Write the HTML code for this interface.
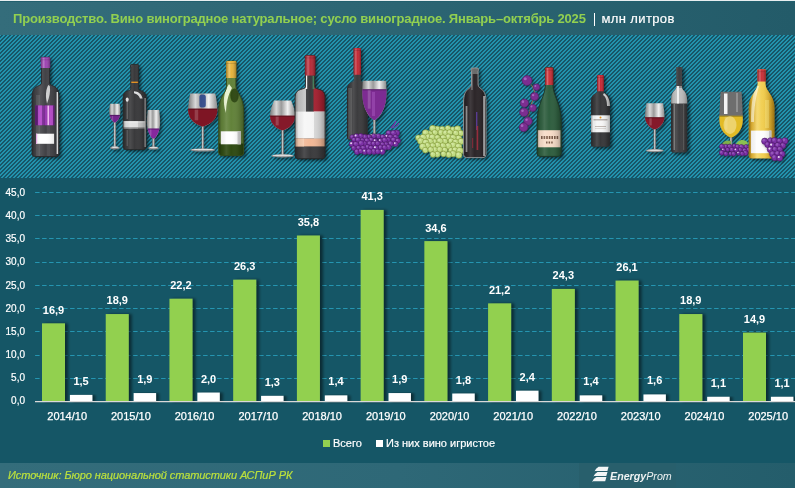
<!DOCTYPE html>
<html><head><meta charset="utf-8"><style>
html,body{margin:0;padding:0;}
html{background:#155666;}
body{width:795px;height:488px;overflow:hidden;position:relative;background:#155666;font-family:"Liberation Sans",Arial,sans-serif;}
#hdr{position:absolute;left:0;top:0;width:795px;height:35px;background:linear-gradient(to right,#346d7b 0%,#2c6573 50%,#235b69 100%);}
#hdr:before{content:'';position:absolute;left:0;top:0;width:795px;height:1px;background:#e8eef0;}
#hdr:after{content:'';position:absolute;left:0;top:1px;width:795px;height:1px;background:#22606e;}
#title{position:absolute;left:13.1px;top:10.9px;font-size:13px;font-weight:bold;color:#92d050;white-space:nowrap;line-height:16px;letter-spacing:-0.18px;}
#unit{position:absolute;left:601.5px;top:10.8px;-webkit-text-stroke:0.2px #fff;font-size:13px;color:#fff;white-space:nowrap;line-height:16px;letter-spacing:0.37px;}
#banner{position:absolute;left:0;top:35px;width:795px;height:143px;background:repeating-linear-gradient(135deg,#2293ad 0,#2293ad 1.414px,#185668 1.414px,#185668 2.828px);}
#chart{position:absolute;left:0;top:0;}
.g{stroke:#2595b1;stroke-width:1;stroke-dasharray:4.5 2.5;}
.ax{stroke:#d9d9d9;stroke-width:1.2;}
.gb{fill:#92d050;}
.wb{fill:#ffffff;}
.yl{font-size:10px;fill:#fff;text-anchor:end;stroke:#fff;stroke-width:0.2px;}
.vl{font-size:11px;fill:#fff;font-weight:bold;text-anchor:middle;}
.xl{font-size:11px;fill:#fff;text-anchor:middle;stroke:#fff;stroke-width:0.25px;}
#legend{position:absolute;top:437px;left:0;font-size:11px;color:#fff;line-height:12px;-webkit-text-stroke:0.2px #fff;}
.sq{position:absolute;width:7px;height:7px;top:3px;}
#footer{position:absolute;left:0;top:463px;width:795px;height:25px;background:linear-gradient(to right,#346d7b 0%,#2e6877 50%,#245d6b 100%);}
#src{position:absolute;left:8px;top:6px;font-size:11px;font-style:italic;color:#bde23c;white-space:nowrap;line-height:13px;letter-spacing:-0.08px;-webkit-text-stroke:0.2px #bde23c;}
#logo{position:absolute;left:579px;top:0;width:97px;height:25px;background:#285f6c;}
#logo span{position:absolute;top:7px;font-size:10.7px;font-style:italic;color:#eef2f2;line-height:13px;white-space:nowrap;}
</style></head><body>
<div id="hdr"><div id="title">Производство. Вино виноградное натуральное; сусло виноградное. Январь–октябрь 2025</div><div style="position:absolute;left:594px;top:13px;width:1px;height:12.5px;background:#fff"></div><div id="unit">млн литров</div></div>
<div id="banner"></div>
<svg width="795" height="177" viewBox="0 0 795 177" style="position:absolute;left:0;top:0"><defs><filter id="bs" x="-50%" y="-50%" width="200%" height="200%"><feGaussianBlur stdDeviation="1.6"/></filter><filter id="ds" x="-30%" y="-30%" width="160%" height="160%"><feDropShadow dx="1.5" dy="1.5" stdDeviation="1" flood-color="#000" flood-opacity="0.45"/></filter><linearGradient id="bsh" x1="0" x2="1" y1="0" y2="0"><stop offset="0" stop-color="#000" stop-opacity="0.35"/><stop offset="0.12" stop-color="#000" stop-opacity="0.05"/><stop offset="0.3" stop-color="#fff" stop-opacity="0.10"/><stop offset="0.5" stop-color="#fff" stop-opacity="0"/><stop offset="0.85" stop-color="#000" stop-opacity="0.12"/><stop offset="1" stop-color="#000" stop-opacity="0.3"/></linearGradient><linearGradient id="csh" x1="0" x2="1" y1="0" y2="0"><stop offset="0" stop-color="#000" stop-opacity="0.25"/><stop offset="0.3" stop-color="#fff" stop-opacity="0.3"/><stop offset="0.5" stop-color="#fff" stop-opacity="0.05"/><stop offset="1" stop-color="#000" stop-opacity="0.3"/></linearGradient><linearGradient id="yb" x1="0" x2="1" y1="0" y2="0"><stop offset="0" stop-color="#d9a21c"/><stop offset="0.35" stop-color="#f4d666"/><stop offset="0.6" stop-color="#f0cc4c"/><stop offset="1" stop-color="#d8a01c"/></linearGradient><linearGradient id="gl" x1="0" x2="1" y1="0" y2="0"><stop offset="0" stop-color="#7a7a7a"/><stop offset="0.25" stop-color="#d8d8d8"/><stop offset="0.45" stop-color="#9a9a9a"/><stop offset="0.7" stop-color="#f0f0f0"/><stop offset="1" stop-color="#8a8a8a"/></linearGradient><clipPath id="c1"><path d="M42.10,57.30 Q41.20,57.30 41.20,58.50 L41.20,59.80 L41.50,60.30 L41.50,83.00 C41.50,87.20 32.00,83.70 32.00,97.00 L32.00,153.50 Q32.00,156.50 35.00,156.50 L56.00,156.50 Q59.00,156.50 59.00,153.50 L59.00,97.00 C59.00,83.70 49.50,87.20 49.50,83.00 L49.50,60.30 L49.80,59.80 L49.80,58.50 Q49.80,57.30 48.90,57.30 Z"/></clipPath><clipPath id="g2"><path d="M110.03,103.80 C109.56,106.92 109.25,109.27 109.25,111.61 C109.25,118.62 112.89,121.54 114.05,122.40 L115.65,122.40 C116.81,121.54 120.45,118.62 120.45,111.61 C120.45,109.27 120.14,106.92 119.67,103.80 Z"/></clipPath><clipPath id="c3"><path d="M131.40,64.40 Q130.50,64.40 130.50,65.60 L130.50,66.90 L130.80,67.40 L130.80,89.00 C130.80,91.55 123.10,89.42 123.10,97.50 L123.10,146.60 Q123.10,149.60 126.10,149.60 L143.10,149.60 Q146.10,149.60 146.10,146.60 L146.10,97.50 C146.10,89.42 138.40,91.55 138.40,89.00 L138.40,67.40 L138.70,66.90 L138.70,65.60 Q138.70,64.40 137.80,64.40 Z"/></clipPath><clipPath id="g4"><path d="M147.69,110.00 C147.22,114.79 146.90,118.38 146.90,121.97 C146.90,132.71 151.19,137.18 152.70,138.50 L154.30,138.50 C155.81,137.18 160.10,132.71 160.10,121.97 C160.10,118.38 159.78,114.79 159.31,110.00 Z"/></clipPath><clipPath id="g5"><path d="M190.15,93.50 C188.92,100.10 188.10,105.05 188.10,110.00 C188.10,120.72 197.62,125.18 201.95,126.50 L203.55,126.50 C207.88,125.18 217.40,120.72 217.40,110.00 C217.40,105.05 216.58,100.10 215.35,93.50 Z"/></clipPath><clipPath id="c6"><path d="M227.10,61.10 Q226.20,61.10 226.20,62.30 L226.20,63.60 L226.50,64.10 L226.50,86.00 C226.50,93.80 218.70,95.10 218.70,112.00 L218.70,152.60 Q218.70,155.60 221.70,155.60 L240.70,155.60 Q243.70,155.60 243.70,152.60 L243.70,112.00 C243.70,95.10 235.90,93.80 235.90,86.00 L235.90,64.10 L236.20,63.60 L236.20,62.30 Q236.20,61.10 235.30,61.10 Z"/></clipPath><clipPath id="g7"><path d="M274.03,100.60 C271.61,106.52 270.00,110.96 270.00,115.40 C270.00,125.02 278.19,129.02 281.80,130.20 L283.40,130.20 C287.01,129.02 295.20,125.02 295.20,115.40 C295.20,110.96 293.59,106.52 291.17,100.60 Z"/></clipPath><clipPath id="c8"><path d="M306.00,55.40 Q305.10,55.40 305.10,56.60 L305.10,57.90 L305.40,58.40 L305.40,87.00 C305.40,90.00 295.10,87.50 295.10,97.00 L295.10,155.80 Q295.10,158.80 298.10,158.80 L322.10,158.80 Q325.10,158.80 325.10,155.80 L325.10,97.00 C325.10,87.50 314.80,90.00 314.80,87.00 L314.80,58.40 L315.10,57.90 L315.10,56.60 Q315.10,55.40 314.20,55.40 Z"/></clipPath><clipPath id="c9"><path d="M354.50,48.00 Q353.60,48.00 353.60,49.20 L353.60,50.50 L353.90,51.00 L353.90,80.00 C353.90,83.30 346.90,80.55 346.90,91.00 L346.90,137.00 Q346.90,140.00 349.90,140.00 L364.70,140.00 Q367.70,140.00 367.70,137.00 L367.70,91.00 C367.70,80.55 360.70,83.30 360.70,80.00 L360.70,51.00 L361.00,50.50 L361.00,49.20 Q361.00,48.00 360.10,48.00 Z"/></clipPath><clipPath id="g10"><path d="M362.66,80.80 C362.45,85.50 362.30,89.03 362.30,92.56 C362.30,110.40 370.16,117.80 373.60,120.00 L375.20,120.00 C378.63,117.80 386.50,110.40 386.50,92.56 C386.50,89.03 386.35,85.50 386.14,80.80 Z"/></clipPath><clipPath id="c11"><path d="M472.10,68.00 Q471.20,68.00 471.20,69.20 L471.20,70.50 L471.50,71.00 L471.50,84.00 C471.50,90.30 463.60,86.70 463.60,102.00 L463.60,154.60 Q463.60,157.60 466.60,157.60 L483.00,157.60 Q486.00,157.60 486.00,154.60 L486.00,102.00 C486.00,86.70 478.10,90.30 478.10,84.00 L478.10,71.00 L478.40,70.50 L478.40,69.20 Q478.40,68.00 477.50,68.00 Z"/></clipPath><clipPath id="c12"><path d="M545.95,67.60 Q545.05,67.60 545.05,68.80 L545.05,70.10 L545.35,70.60 L545.35,85.00 C545.35,96.10 537.05,103.50 537.05,122.00 L537.05,153.40 Q537.05,156.40 540.05,156.40 L558.25,156.40 Q561.25,156.40 561.25,153.40 L561.25,122.00 C561.25,103.50 552.95,96.10 552.95,85.00 L552.95,70.60 L553.25,70.10 L553.25,68.80 Q553.25,67.60 552.35,67.60 Z"/></clipPath><clipPath id="c13"><path d="M598.00,75.10 Q597.10,75.10 597.10,76.30 L597.10,77.60 L597.40,78.10 L597.40,91.50 C597.40,94.65 591.10,92.03 591.10,102.00 L591.10,144.70 Q591.10,146.70 593.10,146.70 L607.90,146.70 Q609.90,146.70 609.90,144.70 L609.90,102.00 C609.90,92.03 603.60,94.65 603.60,91.50 L603.60,78.10 L603.90,77.60 L603.90,76.30 Q603.90,75.10 603.00,75.10 Z"/></clipPath><clipPath id="g14"><path d="M646.46,103.20 C645.58,108.40 645.00,112.30 645.00,116.20 C645.00,124.65 651.34,128.16 653.95,129.20 L655.55,129.20 C658.16,128.16 664.50,124.65 664.50,116.20 C664.50,112.30 663.92,108.40 663.04,103.20 Z"/></clipPath><clipPath id="c15"><path d="M676.85,67.00 Q675.95,67.00 675.95,68.20 L675.95,69.50 L676.25,70.00 L676.25,87.00 C676.25,91.80 671.05,88.92 671.05,103.00 L671.05,150.40 Q671.05,152.40 673.05,152.40 L685.25,152.40 Q687.25,152.40 687.25,150.40 L687.25,103.00 C687.25,88.92 682.05,91.80 682.05,87.00 L682.05,70.00 L682.35,69.50 L682.35,68.20 Q682.35,67.00 681.45,67.00 Z"/></clipPath><clipPath id="g16"><path d="M720.57,91.70 C719.87,103.06 719.40,111.58 719.40,120.10 C719.40,131.41 727.00,136.11 730.30,137.50 L731.90,137.50 C735.20,136.11 742.80,131.41 742.80,120.10 C742.80,111.58 742.33,103.06 741.63,91.70 Z"/></clipPath><clipPath id="c17"><path d="M758.20,69.20 Q757.30,69.20 757.30,70.40 L757.30,71.70 L757.60,72.20 L757.60,84.00 C757.60,90.90 748.70,95.50 748.70,107.00 L748.70,155.40 Q748.70,158.40 751.70,158.40 L771.50,158.40 Q774.50,158.40 774.50,155.40 L774.50,107.00 C774.50,95.50 765.60,90.90 765.60,84.00 L765.60,72.20 L765.90,71.70 L765.90,70.40 Q765.90,69.20 765.00,69.20 Z"/></clipPath></defs><path d="M42.10,57.30 Q41.20,57.30 41.20,58.50 L41.20,59.80 L41.50,60.30 L41.50,83.00 C41.50,87.20 32.00,83.70 32.00,97.00 L32.00,153.50 Q32.00,156.50 35.00,156.50 L56.00,156.50 Q59.00,156.50 59.00,153.50 L59.00,97.00 C59.00,83.70 49.50,87.20 49.50,83.00 L49.50,60.30 L49.80,59.80 L49.80,58.50 Q49.80,57.30 48.90,57.30 Z" fill="#000" opacity="0.55" filter="url(#bs)" transform="translate(2.5,2)"/><path d="M42.10,57.30 Q41.20,57.30 41.20,58.50 L41.20,59.80 L41.50,60.30 L41.50,83.00 C41.50,87.20 32.00,83.70 32.00,97.00 L32.00,153.50 Q32.00,156.50 35.00,156.50 L56.00,156.50 Q59.00,156.50 59.00,153.50 L59.00,97.00 C59.00,83.70 49.50,87.20 49.50,83.00 L49.50,60.30 L49.80,59.80 L49.80,58.50 Q49.80,57.30 48.90,57.30 Z" fill="#434347"/><g clip-path="url(#c1)"><rect x="36.00" y="95.00" width="4.00" height="61.00" fill="#5a5a5e" opacity="0.8"/><rect x="47.00" y="95.00" width="3.00" height="61.00" fill="#555559" opacity="0.6"/><rect x="35.20" y="105.50" width="19.20" height="19.70" fill="#7a2a92" /><rect x="35.20" y="105.50" width="2.60" height="19.70" fill="#5a1a70" /><rect x="38.00" y="105.50" width="4.00" height="19.70" fill="#b044c6" /><rect x="45.00" y="105.50" width="2.00" height="19.70" fill="#9a3ab2" /><rect x="47.40" y="105.50" width="1.80" height="19.70" fill="#f4b8f4" /><rect x="49.20" y="105.50" width="3.80" height="19.70" fill="#b84ccc" /><rect x="53.00" y="105.50" width="1.40" height="19.70" fill="#6a2080" /><rect x="36.00" y="133.70" width="18.10" height="10.10" fill="#ffffff" /><rect x="36.00" y="133.70" width="1.20" height="10.10" fill="#f0b0f0" /><path d="M48.2,85 C45.8,90 45.2,96 47,103.5 C49.6,97 50.6,91 49.8,86 Z" fill="#fff" opacity="0.75"/><rect x="32.00" y="57.30" width="27.00" height="99.20" fill="url(#bsh)"/><rect x="56.60" y="92.00" width="1.60" height="62.00" fill="#e8e8e8" opacity="0.9"/></g><path d="M42.10,57.30 Q41.20,57.30 41.20,58.50 L41.20,59.80 L41.50,60.30 L41.50,83.00 C41.50,87.20 32.00,83.70 32.00,97.00 L32.00,153.50 Q32.00,156.50 35.00,156.50 L56.00,156.50 Q59.00,156.50 59.00,153.50 L59.00,97.00 C59.00,83.70 49.50,87.20 49.50,83.00 L49.50,60.30 L49.80,59.80 L49.80,58.50 Q49.80,57.30 48.90,57.30 Z" fill="none" stroke="#2a2a2c" stroke-width="0.9"/><path d="M40.80,58.50 Q40.80,57.30 42.00,57.30 L49.00,57.30 Q50.20,57.30 50.20,58.50 L50.20,68.00 L40.80,68.00 Z" fill="#9a3cb0"/><rect x="40.80" y="57.70" width="9.40" height="10.30" fill="url(#csh)"/><rect x="40.80" y="59.50" width="9.40" height="0.7" fill="#000" opacity="0.18"/><g filter="url(#bs)" opacity="0.5" transform="translate(2,2)"><path d="M110.03,103.80 C109.56,106.92 109.25,109.27 109.25,111.61 C109.25,118.62 112.89,121.54 114.05,122.40 L115.65,122.40 C116.81,121.54 120.45,118.62 120.45,111.61 C120.45,109.27 120.14,106.92 119.67,103.80 Z" fill="#000"/><rect x="114.05" y="122.40" width="1.6" height="26.00" fill="#000"/><ellipse cx="114.85" cy="147.90" rx="4.75" ry="1.6" fill="#000"/></g><rect x="113.65" y="121.40" width="2.4" height="27.00" fill="#5a5a5a"/><rect x="114.05" y="121.40" width="1.6" height="27.00" fill="#9a9a9a"/><rect x="114.25" y="121.40" width="0.6" height="27.00" fill="#dadada"/><ellipse cx="114.85" cy="147.80" rx="4.75" ry="1.6" fill="#8e8e8e"/><ellipse cx="114.85" cy="147.30" rx="3.55" ry="0.8" fill="#dcdcdc"/><path d="M110.03,103.80 C109.56,106.92 109.25,109.27 109.25,111.61 C109.25,118.62 112.89,121.54 114.05,122.40 L115.65,122.40 C116.81,121.54 120.45,118.62 120.45,111.61 C120.45,109.27 120.14,106.92 119.67,103.80 Z" fill="url(#gl)"/><g clip-path="url(#g2)"><rect x="108.25" y="114.90" width="13.20" height="8.50" fill="#74228c" /><rect x="108.25" y="114.90" width="13.20" height="1.20" fill="#000" opacity="0.25"/><rect x="111.77" y="115.90" width="1.34" height="4.50" fill="#fff" opacity="0.18"/></g><path d="M131.40,64.40 Q130.50,64.40 130.50,65.60 L130.50,66.90 L130.80,67.40 L130.80,89.00 C130.80,91.55 123.10,89.42 123.10,97.50 L123.10,146.60 Q123.10,149.60 126.10,149.60 L143.10,149.60 Q146.10,149.60 146.10,146.60 L146.10,97.50 C146.10,89.42 138.40,91.55 138.40,89.00 L138.40,67.40 L138.70,66.90 L138.70,65.60 Q138.70,64.40 137.80,64.40 Z" fill="#000" opacity="0.55" filter="url(#bs)" transform="translate(2.5,2)"/><path d="M131.40,64.40 Q130.50,64.40 130.50,65.60 L130.50,66.90 L130.80,67.40 L130.80,89.00 C130.80,91.55 123.10,89.42 123.10,97.50 L123.10,146.60 Q123.10,149.60 126.10,149.60 L143.10,149.60 Q146.10,149.60 146.10,146.60 L146.10,97.50 C146.10,89.42 138.40,91.55 138.40,89.00 L138.40,67.40 L138.70,66.90 L138.70,65.60 Q138.70,64.40 137.80,64.40 Z" fill="#3a3a3c"/><g clip-path="url(#c3)"><rect x="120.00" y="121.40" width="30.00" height="6.90" fill="#c9c9c9" /><rect x="120.00" y="121.40" width="18.00" height="6.90" fill="#e2e2e2" /><rect x="120.00" y="121.40" width="30.00" height="0.90" fill="#f4f4f4" /><rect x="120.00" y="127.40" width="30.00" height="0.90" fill="#7a7a7a" /><rect x="125.00" y="81.60" width="20.00" height="1.40" fill="#e09020" /><rect x="126.50" y="101.00" width="1.50" height="18.00" fill="#fff" opacity="0.22"/><rect x="126.50" y="130.00" width="1.50" height="16.00" fill="#fff" opacity="0.15"/><path d="M134,91.3 C138,91.6 141.5,93.6 142.6,98.5 L140,98.5 C139,95.6 137,93.8 134,93.2 Z" fill="#fff" opacity="0.85"/><ellipse cx="127.2" cy="99.6" rx="1.5" ry="2.2" fill="#fff" opacity="0.9"/><rect x="123.10" y="64.40" width="23.00" height="85.20" fill="url(#bsh)"/><rect x="144.60" y="98.00" width="1.30" height="49.00" fill="#bdbdbd" opacity="0.85"/></g><path d="M131.40,64.40 Q130.50,64.40 130.50,65.60 L130.50,66.90 L130.80,67.40 L130.80,89.00 C130.80,91.55 123.10,89.42 123.10,97.50 L123.10,146.60 Q123.10,149.60 126.10,149.60 L143.10,149.60 Q146.10,149.60 146.10,146.60 L146.10,97.50 C146.10,89.42 138.40,91.55 138.40,89.00 L138.40,67.40 L138.70,66.90 L138.70,65.60 Q138.70,64.40 137.80,64.40 Z" fill="none" stroke="#2a2a2a" stroke-width="0.9"/><g filter="url(#bs)" opacity="0.5" transform="translate(2,2)"><path d="M147.69,110.00 C147.22,114.79 146.90,118.38 146.90,121.97 C146.90,132.71 151.19,137.18 152.70,138.50 L154.30,138.50 C155.81,137.18 160.10,132.71 160.10,121.97 C160.10,118.38 159.78,114.79 159.31,110.00 Z" fill="#000"/><rect x="152.70" y="138.50" width="1.6" height="10.10" fill="#000"/><ellipse cx="153.50" cy="148.10" rx="5.25" ry="1.6" fill="#000"/></g><rect x="152.30" y="137.50" width="2.4" height="11.10" fill="#5a5a5a"/><rect x="152.70" y="137.50" width="1.6" height="11.10" fill="#9a9a9a"/><rect x="152.90" y="137.50" width="0.6" height="11.10" fill="#dadada"/><ellipse cx="153.50" cy="148.00" rx="5.25" ry="1.6" fill="#8e8e8e"/><ellipse cx="153.50" cy="147.50" rx="4.05" ry="0.8" fill="#dcdcdc"/><path d="M147.69,110.00 C147.22,114.79 146.90,118.38 146.90,121.97 C146.90,132.71 151.19,137.18 152.70,138.50 L154.30,138.50 C155.81,137.18 160.10,132.71 160.10,121.97 C160.10,118.38 159.78,114.79 159.31,110.00 Z" fill="url(#gl)"/><g clip-path="url(#g4)"><rect x="145.90" y="128.50" width="15.20" height="11.00" fill="#86289e" /><rect x="145.90" y="128.50" width="15.20" height="1.20" fill="#000" opacity="0.25"/><rect x="149.87" y="129.50" width="1.58" height="6.00" fill="#fff" opacity="0.18"/></g><g filter="url(#bs)" opacity="0.5" transform="translate(2,2)"><path d="M190.15,93.50 C188.92,100.10 188.10,105.05 188.10,110.00 C188.10,120.72 197.62,125.18 201.95,126.50 L203.55,126.50 C207.88,125.18 217.40,120.72 217.40,110.00 C217.40,105.05 216.58,100.10 215.35,93.50 Z" fill="#000"/><rect x="201.95" y="126.50" width="1.6" height="24.10" fill="#000"/><ellipse cx="202.75" cy="150.10" rx="12.50" ry="1.6" fill="#000"/></g><rect x="201.55" y="125.50" width="2.4" height="25.10" fill="#5a5a5a"/><rect x="201.95" y="125.50" width="1.6" height="25.10" fill="#9a9a9a"/><rect x="202.15" y="125.50" width="0.6" height="25.10" fill="#dadada"/><ellipse cx="202.75" cy="150.00" rx="12.50" ry="1.6" fill="#8e8e8e"/><ellipse cx="202.75" cy="149.50" rx="11.30" ry="0.8" fill="#dcdcdc"/><path d="M190.15,93.50 C188.92,100.10 188.10,105.05 188.10,110.00 C188.10,120.72 197.62,125.18 201.95,126.50 L203.55,126.50 C207.88,125.18 217.40,120.72 217.40,110.00 C217.40,105.05 216.58,100.10 215.35,93.50 Z" fill="url(#gl)"/><g clip-path="url(#g5)"><rect x="187.10" y="108.60" width="31.30" height="18.90" fill="#7e1524" /><rect x="187.10" y="108.60" width="31.30" height="1.20" fill="#000" opacity="0.25"/><rect x="194.69" y="109.60" width="3.52" height="10.74" fill="#fff" opacity="0.18"/></g><rect x="199.40" y="94.50" width="6.40" height="13.00" fill="#2c4688" opacity="0.9" rx="2.5"/><path d="M227.10,61.10 Q226.20,61.10 226.20,62.30 L226.20,63.60 L226.50,64.10 L226.50,86.00 C226.50,93.80 218.70,95.10 218.70,112.00 L218.70,152.60 Q218.70,155.60 221.70,155.60 L240.70,155.60 Q243.70,155.60 243.70,152.60 L243.70,112.00 C243.70,95.10 235.90,93.80 235.90,86.00 L235.90,64.10 L236.20,63.60 L236.20,62.30 Q236.20,61.10 235.30,61.10 Z" fill="#000" opacity="0.55" filter="url(#bs)" transform="translate(2.5,2)"/><path d="M227.10,61.10 Q226.20,61.10 226.20,62.30 L226.20,63.60 L226.50,64.10 L226.50,86.00 C226.50,93.80 218.70,95.10 218.70,112.00 L218.70,152.60 Q218.70,155.60 221.70,155.60 L240.70,155.60 Q243.70,155.60 243.70,152.60 L243.70,112.00 C243.70,95.10 235.90,93.80 235.90,86.00 L235.90,64.10 L236.20,63.60 L236.20,62.30 Q236.20,61.10 235.30,61.10 Z" fill="#62823a"/><g clip-path="url(#c6)"><rect x="214.00" y="143.50" width="36.00" height="14.50" fill="#2f4a12" /><rect x="220.80" y="131.30" width="20.10" height="13.00" fill="#ffffff" /><rect x="237.50" y="131.30" width="3.40" height="13.00" fill="#cfcfcf" /><path d="M229,84 C224,92 222,101 226,113 C226,104 228,95 232,88 Z" fill="#eef8d8" opacity="0.95"/><ellipse cx="234.5" cy="95.5" rx="4.2" ry="7" fill="#2a4210" opacity="0.9"/><rect x="218.70" y="61.10" width="25.00" height="94.50" fill="url(#bsh)"/></g><path d="M227.10,61.10 Q226.20,61.10 226.20,62.30 L226.20,63.60 L226.50,64.10 L226.50,86.00 C226.50,93.80 218.70,95.10 218.70,112.00 L218.70,152.60 Q218.70,155.60 221.70,155.60 L240.70,155.60 Q243.70,155.60 243.70,152.60 L243.70,112.00 C243.70,95.10 235.90,93.80 235.90,86.00 L235.90,64.10 L236.20,63.60 L236.20,62.30 Q236.20,61.10 235.30,61.10 Z" fill="none" stroke="#33491a" stroke-width="0.9"/><path d="M226.10,62.30 Q226.10,61.10 227.30,61.10 L235.10,61.10 Q236.30,61.10 236.30,62.30 L236.30,78.00 L226.10,78.00 Z" fill="#e6b032"/><rect x="226.10" y="61.50" width="10.20" height="16.50" fill="url(#csh)"/><rect x="226.10" y="63.30" width="10.20" height="0.7" fill="#000" opacity="0.18"/><g filter="url(#bs)" opacity="0.5" transform="translate(2,2)"><path d="M274.03,100.60 C271.61,106.52 270.00,110.96 270.00,115.40 C270.00,125.02 278.19,129.02 281.80,130.20 L283.40,130.20 C287.01,129.02 295.20,125.02 295.20,115.40 C295.20,110.96 293.59,106.52 291.17,100.60 Z" fill="#000"/><rect x="281.80" y="130.20" width="1.6" height="26.30" fill="#000"/><ellipse cx="282.60" cy="156.00" rx="11.50" ry="1.6" fill="#000"/></g><rect x="281.40" y="129.20" width="2.4" height="27.30" fill="#5a5a5a"/><rect x="281.80" y="129.20" width="1.6" height="27.30" fill="#9a9a9a"/><rect x="282.00" y="129.20" width="0.6" height="27.30" fill="#dadada"/><ellipse cx="282.60" cy="155.90" rx="11.50" ry="1.6" fill="#8e8e8e"/><ellipse cx="282.60" cy="155.40" rx="10.30" ry="0.8" fill="#dcdcdc"/><path d="M274.03,100.60 C271.61,106.52 270.00,110.96 270.00,115.40 C270.00,125.02 278.19,129.02 281.80,130.20 L283.40,130.20 C287.01,129.02 295.20,125.02 295.20,115.40 C295.20,110.96 293.59,106.52 291.17,100.60 Z" fill="url(#gl)"/><g clip-path="url(#g7)"><rect x="269.00" y="115.60" width="27.20" height="15.60" fill="#85192a" /><rect x="269.00" y="115.60" width="27.20" height="1.20" fill="#000" opacity="0.25"/><rect x="275.67" y="116.60" width="3.02" height="8.76" fill="#fff" opacity="0.18"/></g><path d="M306.00,55.40 Q305.10,55.40 305.10,56.60 L305.10,57.90 L305.40,58.40 L305.40,87.00 C305.40,90.00 295.10,87.50 295.10,97.00 L295.10,155.80 Q295.10,158.80 298.10,158.80 L322.10,158.80 Q325.10,158.80 325.10,155.80 L325.10,97.00 C325.10,87.50 314.80,90.00 314.80,87.00 L314.80,58.40 L315.10,57.90 L315.10,56.60 Q315.10,55.40 314.20,55.40 Z" fill="#000" opacity="0.55" filter="url(#bs)" transform="translate(2.5,2)"/><path d="M306.00,55.40 Q305.10,55.40 305.10,56.60 L305.10,57.90 L305.40,58.40 L305.40,87.00 C305.40,90.00 295.10,87.50 295.10,97.00 L295.10,155.80 Q295.10,158.80 298.10,158.80 L322.10,158.80 Q325.10,158.80 325.10,155.80 L325.10,97.00 C325.10,87.50 314.80,90.00 314.80,87.00 L314.80,58.40 L315.10,57.90 L315.10,56.60 Q315.10,55.40 314.20,55.40 Z" fill="#3b3b3d"/><g clip-path="url(#c8)"><rect x="294.00" y="84.00" width="12.00" height="28.00" fill="#c4c4c4" /><rect x="313.50" y="84.00" width="12.50" height="28.00" fill="#a82232" /><rect x="305.60" y="75.00" width="1.60" height="14.00" fill="#f2f2f2" /><rect x="312.60" y="76.00" width="2.00" height="13.00" fill="#3f8a5c" opacity="0.85"/><rect x="294.00" y="111.60" width="32.00" height="27.00" fill="#f6f6f6" /><rect x="314.00" y="111.60" width="12.00" height="27.00" fill="#dcdcdc" /><rect x="294.00" y="138.60" width="32.00" height="7.80" fill="#f2b896" /><rect x="294.00" y="138.60" width="10.00" height="7.80" fill="#f8cdb0" /><rect x="295.10" y="55.40" width="30.00" height="103.40" fill="url(#bsh)"/></g><path d="M306.00,55.40 Q305.10,55.40 305.10,56.60 L305.10,57.90 L305.40,58.40 L305.40,87.00 C305.40,90.00 295.10,87.50 295.10,97.00 L295.10,155.80 Q295.10,158.80 298.10,158.80 L322.10,158.80 Q325.10,158.80 325.10,155.80 L325.10,97.00 C325.10,87.50 314.80,90.00 314.80,87.00 L314.80,58.40 L315.10,57.90 L315.10,56.60 Q315.10,55.40 314.20,55.40 Z" fill="none" stroke="#262626" stroke-width="0.9"/><path d="M304.90,56.60 Q304.90,55.40 306.10,55.40 L314.10,55.40 Q315.30,55.40 315.30,56.60 L315.30,75.60 L304.90,75.60 Z" fill="#b3202e"/><rect x="304.90" y="55.80" width="10.40" height="19.80" fill="url(#csh)"/><rect x="304.90" y="57.60" width="10.40" height="0.7" fill="#000" opacity="0.18"/><path d="M354.50,48.00 Q353.60,48.00 353.60,49.20 L353.60,50.50 L353.90,51.00 L353.90,80.00 C353.90,83.30 346.90,80.55 346.90,91.00 L346.90,137.00 Q346.90,140.00 349.90,140.00 L364.70,140.00 Q367.70,140.00 367.70,137.00 L367.70,91.00 C367.70,80.55 360.70,83.30 360.70,80.00 L360.70,51.00 L361.00,50.50 L361.00,49.20 Q361.00,48.00 360.10,48.00 Z" fill="#000" opacity="0.55" filter="url(#bs)" transform="translate(2.5,2)"/><path d="M354.50,48.00 Q353.60,48.00 353.60,49.20 L353.60,50.50 L353.90,51.00 L353.90,80.00 C353.90,83.30 346.90,80.55 346.90,91.00 L346.90,137.00 Q346.90,140.00 349.90,140.00 L364.70,140.00 Q367.70,140.00 367.70,137.00 L367.70,91.00 C367.70,80.55 360.70,83.30 360.70,80.00 L360.70,51.00 L361.00,50.50 L361.00,49.20 Q361.00,48.00 360.10,48.00 Z" fill="#3c3c3e"/><g clip-path="url(#c9)"><rect x="348.00" y="88.00" width="4.00" height="51.00" fill="#fff" opacity="0.15"/><rect x="346.90" y="48.00" width="20.80" height="92.00" fill="url(#bsh)"/></g><path d="M353.60,49.20 Q353.60,48.00 354.80,48.00 L359.80,48.00 Q361.00,48.00 361.00,49.20 L361.00,74.70 L353.60,74.70 Z" fill="#c0202c"/><rect x="353.60" y="48.40" width="7.40" height="26.30" fill="url(#csh)"/><rect x="353.60" y="50.20" width="7.40" height="0.7" fill="#000" opacity="0.18"/><g filter="url(#bs)" opacity="0.5" transform="translate(2,2)"><path d="M362.66,80.80 C362.45,85.50 362.30,89.03 362.30,92.56 C362.30,110.40 370.16,117.80 373.60,120.00 L375.20,120.00 C378.63,117.80 386.50,110.40 386.50,92.56 C386.50,89.03 386.35,85.50 386.14,80.80 Z" fill="#000"/><rect x="373.60" y="120.00" width="1.6" height="16.00" fill="#000"/><ellipse cx="374.40" cy="135.50" rx="5.00" ry="1.6" fill="#000"/></g><rect x="373.20" y="119.00" width="2.4" height="17.00" fill="#5a5a5a"/><rect x="373.60" y="119.00" width="1.6" height="17.00" fill="#9a9a9a"/><rect x="373.80" y="119.00" width="0.6" height="17.00" fill="#dadada"/><ellipse cx="374.40" cy="135.40" rx="5.00" ry="1.6" fill="#8e8e8e"/><ellipse cx="374.40" cy="134.90" rx="3.80" ry="0.8" fill="#dcdcdc"/><path d="M362.66,80.80 C362.45,85.50 362.30,89.03 362.30,92.56 C362.30,110.40 370.16,117.80 373.60,120.00 L375.20,120.00 C378.63,117.80 386.50,110.40 386.50,92.56 C386.50,89.03 386.35,85.50 386.14,80.80 Z" fill="url(#gl)"/><g clip-path="url(#g10)"><rect x="361.30" y="89.20" width="26.20" height="31.80" fill="#7d2b92" /><rect x="361.30" y="89.20" width="26.20" height="1.20" fill="#000" opacity="0.25"/><rect x="367.75" y="90.20" width="2.90" height="18.48" fill="#fff" opacity="0.18"/></g><rect x="372.00" y="92.00" width="3.00" height="24.00" fill="#a050b8" opacity="0.6"/><g filter="url(#ds)"><circle cx="396.73" cy="132.96" r="2.94" fill="#7b30a6" stroke="#4a1a62" stroke-width="0.6"/><circle cx="395.85" cy="131.93" r="1.32" fill="#c9a0e0" opacity="0.35"/><circle cx="388.85" cy="133.29" r="2.86" fill="#7b30a6" stroke="#4a1a62" stroke-width="0.6"/><circle cx="387.99" cy="132.29" r="1.29" fill="#c9a0e0" opacity="0.35"/><circle cx="393.53" cy="133.29" r="2.93" fill="#7b30a6" stroke="#4a1a62" stroke-width="0.6"/><circle cx="392.65" cy="132.26" r="1.32" fill="#c9a0e0" opacity="0.35"/><circle cx="378.40" cy="136.31" r="2.55" fill="#7b30a6" stroke="#4a1a62" stroke-width="0.6"/><circle cx="377.63" cy="135.42" r="1.15" fill="#c9a0e0" opacity="0.35"/><circle cx="368.94" cy="137.01" r="2.50" fill="#7b30a6" stroke="#4a1a62" stroke-width="0.6"/><circle cx="368.19" cy="136.13" r="1.13" fill="#c9a0e0" opacity="0.35"/><circle cx="352.33" cy="137.14" r="2.49" fill="#7b30a6" stroke="#4a1a62" stroke-width="0.6"/><circle cx="351.58" cy="136.26" r="1.12" fill="#c9a0e0" opacity="0.35"/><circle cx="387.10" cy="136.70" r="2.80" fill="#7b30a6" stroke="#4a1a62" stroke-width="0.6"/><circle cx="386.26" cy="135.86" r="0.98" fill="#f4eaf8" opacity="0.9"/><circle cx="364.79" cy="137.15" r="2.84" fill="#7b30a6" stroke="#4a1a62" stroke-width="0.6"/><circle cx="363.93" cy="136.16" r="1.28" fill="#c9a0e0" opacity="0.35"/><circle cx="382.83" cy="137.10" r="2.59" fill="#7b30a6" stroke="#4a1a62" stroke-width="0.6"/><circle cx="382.05" cy="136.20" r="1.16" fill="#c9a0e0" opacity="0.35"/><circle cx="390.50" cy="137.18" r="2.80" fill="#7b30a6" stroke="#4a1a62" stroke-width="0.6"/><circle cx="389.65" cy="136.20" r="1.26" fill="#c9a0e0" opacity="0.35"/><circle cx="360.84" cy="136.07" r="2.55" fill="#7b30a6" stroke="#4a1a62" stroke-width="0.6"/><circle cx="360.07" cy="135.18" r="1.15" fill="#c9a0e0" opacity="0.35"/><circle cx="356.41" cy="136.35" r="2.72" fill="#7b30a6" stroke="#4a1a62" stroke-width="0.6"/><circle cx="355.60" cy="135.53" r="0.95" fill="#f4eaf8" opacity="0.9"/><circle cx="373.79" cy="136.21" r="2.43" fill="#7b30a6" stroke="#4a1a62" stroke-width="0.6"/><circle cx="373.06" cy="135.36" r="1.09" fill="#c9a0e0" opacity="0.35"/><circle cx="395.71" cy="137.13" r="2.59" fill="#7b30a6" stroke="#4a1a62" stroke-width="0.6"/><circle cx="394.93" cy="136.22" r="1.17" fill="#c9a0e0" opacity="0.35"/><circle cx="362.30" cy="140.52" r="2.61" fill="#7b30a6" stroke="#4a1a62" stroke-width="0.6"/><circle cx="361.52" cy="139.61" r="1.18" fill="#c9a0e0" opacity="0.35"/><circle cx="371.28" cy="140.29" r="2.81" fill="#7b30a6" stroke="#4a1a62" stroke-width="0.6"/><circle cx="370.44" cy="139.30" r="1.26" fill="#c9a0e0" opacity="0.35"/><circle cx="380.40" cy="140.72" r="2.44" fill="#7b30a6" stroke="#4a1a62" stroke-width="0.6"/><circle cx="379.67" cy="139.99" r="0.85" fill="#f4eaf8" opacity="0.9"/><circle cx="388.11" cy="139.77" r="2.53" fill="#7b30a6" stroke="#4a1a62" stroke-width="0.6"/><circle cx="387.35" cy="138.88" r="1.14" fill="#c9a0e0" opacity="0.35"/><circle cx="354.13" cy="139.91" r="2.51" fill="#7b30a6" stroke="#4a1a62" stroke-width="0.6"/><circle cx="353.38" cy="139.03" r="1.13" fill="#c9a0e0" opacity="0.35"/><circle cx="384.75" cy="140.15" r="2.74" fill="#7b30a6" stroke="#4a1a62" stroke-width="0.6"/><circle cx="383.92" cy="139.19" r="1.23" fill="#c9a0e0" opacity="0.35"/><circle cx="366.97" cy="140.69" r="2.69" fill="#7b30a6" stroke="#4a1a62" stroke-width="0.6"/><circle cx="366.17" cy="139.75" r="1.21" fill="#c9a0e0" opacity="0.35"/><circle cx="358.08" cy="140.07" r="2.76" fill="#7b30a6" stroke="#4a1a62" stroke-width="0.6"/><circle cx="357.25" cy="139.11" r="1.24" fill="#c9a0e0" opacity="0.35"/><circle cx="393.55" cy="139.95" r="2.84" fill="#7b30a6" stroke="#4a1a62" stroke-width="0.6"/><circle cx="392.69" cy="138.95" r="1.28" fill="#c9a0e0" opacity="0.35"/><circle cx="375.27" cy="140.88" r="2.44" fill="#7b30a6" stroke="#4a1a62" stroke-width="0.6"/><circle cx="374.54" cy="140.15" r="0.85" fill="#f4eaf8" opacity="0.9"/><circle cx="397.82" cy="140.84" r="2.62" fill="#7b30a6" stroke="#4a1a62" stroke-width="0.6"/><circle cx="397.03" cy="139.92" r="1.18" fill="#c9a0e0" opacity="0.35"/><circle cx="395.54" cy="143.91" r="2.66" fill="#7b30a6" stroke="#4a1a62" stroke-width="0.6"/><circle cx="394.74" cy="143.11" r="0.93" fill="#f4eaf8" opacity="0.9"/><circle cx="351.98" cy="143.99" r="2.85" fill="#7b30a6" stroke="#4a1a62" stroke-width="0.6"/><circle cx="351.12" cy="143.14" r="1.00" fill="#f4eaf8" opacity="0.9"/><circle cx="390.74" cy="143.65" r="2.75" fill="#7b30a6" stroke="#4a1a62" stroke-width="0.6"/><circle cx="389.91" cy="142.69" r="1.24" fill="#c9a0e0" opacity="0.35"/><circle cx="364.56" cy="143.77" r="2.76" fill="#7b30a6" stroke="#4a1a62" stroke-width="0.6"/><circle cx="363.73" cy="142.81" r="1.24" fill="#c9a0e0" opacity="0.35"/><circle cx="369.85" cy="143.77" r="2.93" fill="#7b30a6" stroke="#4a1a62" stroke-width="0.6"/><circle cx="368.97" cy="142.75" r="1.32" fill="#c9a0e0" opacity="0.35"/><circle cx="361.18" cy="143.41" r="2.94" fill="#7b30a6" stroke="#4a1a62" stroke-width="0.6"/><circle cx="360.30" cy="142.38" r="1.32" fill="#c9a0e0" opacity="0.35"/><circle cx="355.98" cy="144.26" r="2.86" fill="#7b30a6" stroke="#4a1a62" stroke-width="0.6"/><circle cx="355.12" cy="143.26" r="1.29" fill="#c9a0e0" opacity="0.35"/><circle cx="386.01" cy="144.55" r="2.72" fill="#7b30a6" stroke="#4a1a62" stroke-width="0.6"/><circle cx="385.19" cy="143.60" r="1.22" fill="#c9a0e0" opacity="0.35"/><circle cx="382.48" cy="144.56" r="2.52" fill="#7b30a6" stroke="#4a1a62" stroke-width="0.6"/><circle cx="381.72" cy="143.68" r="1.13" fill="#c9a0e0" opacity="0.35"/><circle cx="373.70" cy="143.74" r="2.60" fill="#7b30a6" stroke="#4a1a62" stroke-width="0.6"/><circle cx="372.92" cy="142.83" r="1.17" fill="#c9a0e0" opacity="0.35"/><circle cx="377.56" cy="143.46" r="2.51" fill="#7b30a6" stroke="#4a1a62" stroke-width="0.6"/><circle cx="376.81" cy="142.58" r="1.13" fill="#c9a0e0" opacity="0.35"/><circle cx="380.67" cy="147.56" r="2.69" fill="#7b30a6" stroke="#4a1a62" stroke-width="0.6"/><circle cx="379.86" cy="146.62" r="1.21" fill="#c9a0e0" opacity="0.35"/><circle cx="388.58" cy="147.20" r="2.63" fill="#7b30a6" stroke="#4a1a62" stroke-width="0.6"/><circle cx="387.79" cy="146.27" r="1.19" fill="#c9a0e0" opacity="0.35"/><circle cx="353.77" cy="148.12" r="2.45" fill="#7b30a6" stroke="#4a1a62" stroke-width="0.6"/><circle cx="353.03" cy="147.26" r="1.10" fill="#c9a0e0" opacity="0.35"/><circle cx="367.55" cy="147.15" r="2.66" fill="#7b30a6" stroke="#4a1a62" stroke-width="0.6"/><circle cx="366.75" cy="146.22" r="1.20" fill="#c9a0e0" opacity="0.35"/><circle cx="363.18" cy="148.16" r="2.77" fill="#7b30a6" stroke="#4a1a62" stroke-width="0.6"/><circle cx="362.35" cy="147.19" r="1.25" fill="#c9a0e0" opacity="0.35"/><circle cx="358.59" cy="148.03" r="2.50" fill="#7b30a6" stroke="#4a1a62" stroke-width="0.6"/><circle cx="357.84" cy="147.15" r="1.13" fill="#c9a0e0" opacity="0.35"/><circle cx="384.68" cy="147.59" r="2.59" fill="#7b30a6" stroke="#4a1a62" stroke-width="0.6"/><circle cx="383.90" cy="146.69" r="1.16" fill="#c9a0e0" opacity="0.35"/><circle cx="371.08" cy="148.03" r="2.59" fill="#7b30a6" stroke="#4a1a62" stroke-width="0.6"/><circle cx="370.30" cy="147.13" r="1.17" fill="#c9a0e0" opacity="0.35"/><circle cx="375.74" cy="148.22" r="2.89" fill="#7b30a6" stroke="#4a1a62" stroke-width="0.6"/><circle cx="374.88" cy="147.35" r="1.01" fill="#f4eaf8" opacity="0.9"/><circle cx="382.23" cy="151.60" r="2.80" fill="#7b30a6" stroke="#4a1a62" stroke-width="0.6"/><circle cx="381.39" cy="150.76" r="0.98" fill="#f4eaf8" opacity="0.9"/><circle cx="373.88" cy="151.47" r="2.84" fill="#7b30a6" stroke="#4a1a62" stroke-width="0.6"/><circle cx="373.03" cy="150.48" r="1.28" fill="#c9a0e0" opacity="0.35"/><circle cx="357.04" cy="151.83" r="2.77" fill="#7b30a6" stroke="#4a1a62" stroke-width="0.6"/><circle cx="356.21" cy="150.86" r="1.25" fill="#c9a0e0" opacity="0.35"/><circle cx="364.78" cy="151.61" r="2.90" fill="#7b30a6" stroke="#4a1a62" stroke-width="0.6"/><circle cx="363.91" cy="150.74" r="1.01" fill="#f4eaf8" opacity="0.9"/><circle cx="360.75" cy="151.08" r="2.48" fill="#7b30a6" stroke="#4a1a62" stroke-width="0.6"/><circle cx="360.01" cy="150.21" r="1.12" fill="#c9a0e0" opacity="0.35"/><circle cx="377.79" cy="151.52" r="2.58" fill="#7b30a6" stroke="#4a1a62" stroke-width="0.6"/><circle cx="377.01" cy="150.62" r="1.16" fill="#c9a0e0" opacity="0.35"/><circle cx="369.18" cy="151.62" r="2.85" fill="#7b30a6" stroke="#4a1a62" stroke-width="0.6"/><circle cx="368.33" cy="150.62" r="1.28" fill="#c9a0e0" opacity="0.35"/></g><path d="M391,128 C393,126 395,124 396,121 M393,128 C396,127 398,125 399,123" stroke="#7b30a6" stroke-width="1.2" fill="none"/><g filter="url(#ds)"><circle cx="437.32" cy="129.06" r="3.02" fill="#c2dc84" stroke="#7d9232" stroke-width="0.6"/><circle cx="436.41" cy="128.00" r="1.36" fill="#f0f8d0" opacity="0.35"/><circle cx="442.29" cy="129.01" r="2.81" fill="#c2dc84" stroke="#7d9232" stroke-width="0.6"/><circle cx="441.45" cy="128.03" r="1.27" fill="#f0f8d0" opacity="0.35"/><circle cx="452.88" cy="129.52" r="2.87" fill="#c2dc84" stroke="#7d9232" stroke-width="0.6"/><circle cx="452.02" cy="128.52" r="1.29" fill="#f0f8d0" opacity="0.35"/><circle cx="447.89" cy="128.31" r="2.85" fill="#c2dc84" stroke="#7d9232" stroke-width="0.6"/><circle cx="447.04" cy="127.32" r="1.28" fill="#f0f8d0" opacity="0.35"/><circle cx="432.72" cy="128.44" r="3.19" fill="#c2dc84" stroke="#7d9232" stroke-width="0.6"/><circle cx="431.76" cy="127.32" r="1.44" fill="#f0f8d0" opacity="0.35"/><circle cx="457.56" cy="129.20" r="3.38" fill="#c2dc84" stroke="#7d9232" stroke-width="0.6"/><circle cx="456.54" cy="128.02" r="1.52" fill="#f0f8d0" opacity="0.35"/><circle cx="441.01" cy="132.74" r="3.15" fill="#c2dc84" stroke="#7d9232" stroke-width="0.6"/><circle cx="440.06" cy="131.64" r="1.42" fill="#f0f8d0" opacity="0.35"/><circle cx="445.72" cy="133.05" r="3.13" fill="#c2dc84" stroke="#7d9232" stroke-width="0.6"/><circle cx="444.78" cy="131.95" r="1.41" fill="#f0f8d0" opacity="0.35"/><circle cx="460.64" cy="133.18" r="2.98" fill="#c2dc84" stroke="#7d9232" stroke-width="0.6"/><circle cx="459.74" cy="132.13" r="1.34" fill="#f0f8d0" opacity="0.35"/><circle cx="455.79" cy="133.13" r="2.98" fill="#c2dc84" stroke="#7d9232" stroke-width="0.6"/><circle cx="454.89" cy="132.09" r="1.34" fill="#f0f8d0" opacity="0.35"/><circle cx="434.93" cy="132.64" r="2.98" fill="#c2dc84" stroke="#7d9232" stroke-width="0.6"/><circle cx="434.04" cy="131.60" r="1.34" fill="#f0f8d0" opacity="0.35"/><circle cx="449.80" cy="132.55" r="2.92" fill="#c2dc84" stroke="#7d9232" stroke-width="0.6"/><circle cx="448.93" cy="131.52" r="1.31" fill="#f0f8d0" opacity="0.35"/><circle cx="429.77" cy="133.82" r="2.97" fill="#c2dc84" stroke="#7d9232" stroke-width="0.6"/><circle cx="428.88" cy="132.78" r="1.34" fill="#f0f8d0" opacity="0.35"/><circle cx="425.62" cy="133.08" r="3.40" fill="#c2dc84" stroke="#7d9232" stroke-width="0.6"/><circle cx="424.60" cy="131.90" r="1.53" fill="#f0f8d0" opacity="0.35"/><circle cx="428.37" cy="137.16" r="3.40" fill="#c2dc84" stroke="#7d9232" stroke-width="0.6"/><circle cx="427.35" cy="135.97" r="1.53" fill="#f0f8d0" opacity="0.35"/><circle cx="418.47" cy="137.82" r="2.94" fill="#c2dc84" stroke="#7d9232" stroke-width="0.6"/><circle cx="417.59" cy="136.79" r="1.32" fill="#f0f8d0" opacity="0.35"/><circle cx="448.60" cy="137.20" r="3.22" fill="#c2dc84" stroke="#7d9232" stroke-width="0.6"/><circle cx="447.63" cy="136.07" r="1.45" fill="#f0f8d0" opacity="0.35"/><circle cx="423.12" cy="137.54" r="3.33" fill="#c2dc84" stroke="#7d9232" stroke-width="0.6"/><circle cx="422.12" cy="136.37" r="1.50" fill="#f0f8d0" opacity="0.35"/><circle cx="458.54" cy="138.21" r="3.08" fill="#c2dc84" stroke="#7d9232" stroke-width="0.6"/><circle cx="457.62" cy="137.13" r="1.39" fill="#f0f8d0" opacity="0.35"/><circle cx="432.39" cy="137.37" r="3.26" fill="#c2dc84" stroke="#7d9232" stroke-width="0.6"/><circle cx="431.41" cy="136.23" r="1.47" fill="#f0f8d0" opacity="0.35"/><circle cx="443.27" cy="137.92" r="3.15" fill="#c2dc84" stroke="#7d9232" stroke-width="0.6"/><circle cx="442.33" cy="136.82" r="1.42" fill="#f0f8d0" opacity="0.35"/><circle cx="437.44" cy="137.48" r="2.81" fill="#c2dc84" stroke="#7d9232" stroke-width="0.6"/><circle cx="436.60" cy="136.50" r="1.27" fill="#f0f8d0" opacity="0.35"/><circle cx="453.15" cy="137.63" r="3.07" fill="#c2dc84" stroke="#7d9232" stroke-width="0.6"/><circle cx="452.23" cy="136.55" r="1.38" fill="#f0f8d0" opacity="0.35"/><circle cx="420.76" cy="141.05" r="3.22" fill="#c2dc84" stroke="#7d9232" stroke-width="0.6"/><circle cx="419.80" cy="139.92" r="1.45" fill="#f0f8d0" opacity="0.35"/><circle cx="444.91" cy="141.35" r="3.03" fill="#c2dc84" stroke="#7d9232" stroke-width="0.6"/><circle cx="444.00" cy="140.28" r="1.36" fill="#f0f8d0" opacity="0.35"/><circle cx="451.09" cy="141.08" r="3.07" fill="#c2dc84" stroke="#7d9232" stroke-width="0.6"/><circle cx="450.17" cy="140.00" r="1.38" fill="#f0f8d0" opacity="0.35"/><circle cx="455.58" cy="142.36" r="3.30" fill="#c2dc84" stroke="#7d9232" stroke-width="0.6"/><circle cx="454.59" cy="141.21" r="1.48" fill="#f0f8d0" opacity="0.35"/><circle cx="434.74" cy="141.69" r="2.89" fill="#c2dc84" stroke="#7d9232" stroke-width="0.6"/><circle cx="433.87" cy="140.68" r="1.30" fill="#f0f8d0" opacity="0.35"/><circle cx="461.08" cy="141.40" r="3.05" fill="#c2dc84" stroke="#7d9232" stroke-width="0.6"/><circle cx="460.17" cy="140.33" r="1.37" fill="#f0f8d0" opacity="0.35"/><circle cx="439.89" cy="141.04" r="3.27" fill="#c2dc84" stroke="#7d9232" stroke-width="0.6"/><circle cx="438.91" cy="139.90" r="1.47" fill="#f0f8d0" opacity="0.35"/><circle cx="430.16" cy="141.57" r="3.20" fill="#c2dc84" stroke="#7d9232" stroke-width="0.6"/><circle cx="429.19" cy="140.45" r="1.44" fill="#f0f8d0" opacity="0.35"/><circle cx="425.74" cy="142.54" r="3.30" fill="#c2dc84" stroke="#7d9232" stroke-width="0.6"/><circle cx="424.75" cy="141.38" r="1.48" fill="#f0f8d0" opacity="0.35"/><circle cx="453.28" cy="145.29" r="3.35" fill="#c2dc84" stroke="#7d9232" stroke-width="0.6"/><circle cx="452.28" cy="144.11" r="1.51" fill="#f0f8d0" opacity="0.35"/><circle cx="448.30" cy="146.02" r="3.17" fill="#c2dc84" stroke="#7d9232" stroke-width="0.6"/><circle cx="447.35" cy="144.91" r="1.43" fill="#f0f8d0" opacity="0.35"/><circle cx="442.79" cy="146.11" r="3.38" fill="#c2dc84" stroke="#7d9232" stroke-width="0.6"/><circle cx="441.78" cy="144.92" r="1.52" fill="#f0f8d0" opacity="0.35"/><circle cx="437.62" cy="145.21" r="3.05" fill="#c2dc84" stroke="#7d9232" stroke-width="0.6"/><circle cx="436.71" cy="144.14" r="1.37" fill="#f0f8d0" opacity="0.35"/><circle cx="432.57" cy="145.98" r="3.16" fill="#c2dc84" stroke="#7d9232" stroke-width="0.6"/><circle cx="431.63" cy="144.87" r="1.42" fill="#f0f8d0" opacity="0.35"/><circle cx="427.44" cy="145.48" r="2.93" fill="#c2dc84" stroke="#7d9232" stroke-width="0.6"/><circle cx="426.56" cy="144.46" r="1.32" fill="#f0f8d0" opacity="0.35"/><circle cx="422.77" cy="146.61" r="3.38" fill="#c2dc84" stroke="#7d9232" stroke-width="0.6"/><circle cx="421.76" cy="145.43" r="1.52" fill="#f0f8d0" opacity="0.35"/><circle cx="458.45" cy="146.60" r="3.28" fill="#c2dc84" stroke="#7d9232" stroke-width="0.6"/><circle cx="457.46" cy="145.45" r="1.48" fill="#f0f8d0" opacity="0.35"/><circle cx="435.03" cy="149.71" r="3.00" fill="#c2dc84" stroke="#7d9232" stroke-width="0.6"/><circle cx="434.13" cy="148.66" r="1.35" fill="#f0f8d0" opacity="0.35"/><circle cx="439.78" cy="149.45" r="2.88" fill="#c2dc84" stroke="#7d9232" stroke-width="0.6"/><circle cx="438.92" cy="148.44" r="1.30" fill="#f0f8d0" opacity="0.35"/><circle cx="451.10" cy="150.43" r="2.88" fill="#c2dc84" stroke="#7d9232" stroke-width="0.6"/><circle cx="450.23" cy="149.42" r="1.30" fill="#f0f8d0" opacity="0.35"/><circle cx="425.33" cy="150.09" r="2.85" fill="#c2dc84" stroke="#7d9232" stroke-width="0.6"/><circle cx="424.47" cy="149.09" r="1.28" fill="#f0f8d0" opacity="0.35"/><circle cx="444.86" cy="150.03" r="2.81" fill="#c2dc84" stroke="#7d9232" stroke-width="0.6"/><circle cx="444.02" cy="149.05" r="1.26" fill="#f0f8d0" opacity="0.35"/><circle cx="430.71" cy="149.55" r="2.83" fill="#c2dc84" stroke="#7d9232" stroke-width="0.6"/><circle cx="429.87" cy="148.56" r="1.27" fill="#f0f8d0" opacity="0.35"/><circle cx="455.10" cy="150.01" r="3.02" fill="#c2dc84" stroke="#7d9232" stroke-width="0.6"/><circle cx="454.20" cy="148.95" r="1.36" fill="#f0f8d0" opacity="0.35"/><circle cx="459.90" cy="150.81" r="3.41" fill="#c2dc84" stroke="#7d9232" stroke-width="0.6"/><circle cx="458.87" cy="149.62" r="1.53" fill="#f0f8d0" opacity="0.35"/><circle cx="453.07" cy="153.74" r="3.12" fill="#c2dc84" stroke="#7d9232" stroke-width="0.6"/><circle cx="452.13" cy="152.65" r="1.40" fill="#f0f8d0" opacity="0.35"/><circle cx="448.72" cy="154.55" r="2.88" fill="#c2dc84" stroke="#7d9232" stroke-width="0.6"/><circle cx="447.86" cy="153.54" r="1.30" fill="#f0f8d0" opacity="0.35"/><circle cx="437.36" cy="154.25" r="2.95" fill="#c2dc84" stroke="#7d9232" stroke-width="0.6"/><circle cx="436.48" cy="153.21" r="1.33" fill="#f0f8d0" opacity="0.35"/><circle cx="458.77" cy="155.08" r="3.22" fill="#c2dc84" stroke="#7d9232" stroke-width="0.6"/><circle cx="457.80" cy="153.95" r="1.45" fill="#f0f8d0" opacity="0.35"/><circle cx="443.53" cy="153.96" r="2.80" fill="#c2dc84" stroke="#7d9232" stroke-width="0.6"/><circle cx="442.68" cy="152.98" r="1.26" fill="#f0f8d0" opacity="0.35"/><circle cx="432.95" cy="154.47" r="2.84" fill="#c2dc84" stroke="#7d9232" stroke-width="0.6"/><circle cx="432.09" cy="153.48" r="1.28" fill="#f0f8d0" opacity="0.35"/></g><path d="M472.10,68.00 Q471.20,68.00 471.20,69.20 L471.20,70.50 L471.50,71.00 L471.50,84.00 C471.50,90.30 463.60,86.70 463.60,102.00 L463.60,154.60 Q463.60,157.60 466.60,157.60 L483.00,157.60 Q486.00,157.60 486.00,154.60 L486.00,102.00 C486.00,86.70 478.10,90.30 478.10,84.00 L478.10,71.00 L478.40,70.50 L478.40,69.20 Q478.40,68.00 477.50,68.00 Z" fill="#000" opacity="0.55" filter="url(#bs)" transform="translate(2.5,2)"/><path d="M472.10,68.00 Q471.20,68.00 471.20,69.20 L471.20,70.50 L471.50,71.00 L471.50,84.00 C471.50,90.30 463.60,86.70 463.60,102.00 L463.60,154.60 Q463.60,157.60 466.60,157.60 L483.00,157.60 Q486.00,157.60 486.00,154.60 L486.00,102.00 C486.00,86.70 478.10,90.30 478.10,84.00 L478.10,71.00 L478.40,70.50 L478.40,69.20 Q478.40,68.00 477.50,68.00 Z" fill="#2c2629"/><g clip-path="url(#c11)"><rect x="470.00" y="68.00" width="10.00" height="6.00" fill="#6a6a6a" /><rect x="471.30" y="74.00" width="1.30" height="16.00" fill="#8a8a8a" opacity="0.8"/><rect x="483.20" y="96.00" width="1.80" height="60.00" fill="#d8d8d8" opacity="0.9"/><rect x="465.60" y="106.00" width="1.80" height="46.00" fill="#a0a0a0" opacity="0.9"/><rect x="476.00" y="112.00" width="1.40" height="18.00" fill="#5a3a9a" opacity="0.9"/><rect x="476.60" y="126.00" width="1.60" height="24.00" fill="#a02838" opacity="0.9"/><rect x="472.00" y="138.00" width="1.20" height="10.00" fill="#902030" opacity="0.7"/><rect x="463.60" y="68.00" width="22.40" height="89.60" fill="url(#bsh)"/></g><path d="M472.10,68.00 Q471.20,68.00 471.20,69.20 L471.20,70.50 L471.50,71.00 L471.50,84.00 C471.50,90.30 463.60,86.70 463.60,102.00 L463.60,154.60 Q463.60,157.60 466.60,157.60 L483.00,157.60 Q486.00,157.60 486.00,154.60 L486.00,102.00 C486.00,86.70 478.10,90.30 478.10,84.00 L478.10,71.00 L478.40,70.50 L478.40,69.20 Q478.40,68.00 477.50,68.00 Z" fill="none" stroke="#9a9a9a" stroke-width="0.9"/><path d="M527,80 C533,86 537,92 533,100 C530,106 531,112 527,118 C526,122 525,125 524,127" stroke="#b08050" stroke-width="1" fill="none"/><g filter="url(#ds)"><circle cx="527.00" cy="80.50" r="5.00" fill="#7b2f90" stroke="#4a1a5a" stroke-width="0.5"/><circle cx="525.25" cy="78.75" r="1.50" fill="#b070c8" opacity="0.8"/><circle cx="536.50" cy="87.10" r="3.30" fill="#7b2f90" stroke="#4a1a5a" stroke-width="0.5"/><circle cx="535.35" cy="85.94" r="0.99" fill="#b070c8" opacity="0.8"/><circle cx="534.50" cy="96.50" r="4.00" fill="#7b2f90" stroke="#4a1a5a" stroke-width="0.5"/><circle cx="533.10" cy="95.10" r="1.20" fill="#b070c8" opacity="0.8"/><circle cx="524.40" cy="103.10" r="4.20" fill="#7b2f90" stroke="#4a1a5a" stroke-width="0.5"/><circle cx="522.93" cy="101.63" r="1.26" fill="#b070c8" opacity="0.8"/><circle cx="532.70" cy="107.80" r="3.60" fill="#7b2f90" stroke="#4a1a5a" stroke-width="0.5"/><circle cx="531.44" cy="106.54" r="1.08" fill="#b070c8" opacity="0.8"/><circle cx="524.00" cy="112.20" r="4.30" fill="#7b2f90" stroke="#4a1a5a" stroke-width="0.5"/><circle cx="522.50" cy="110.70" r="1.29" fill="#b070c8" opacity="0.8"/><circle cx="528.00" cy="121.20" r="4.20" fill="#7b2f90" stroke="#4a1a5a" stroke-width="0.5"/><circle cx="526.53" cy="119.73" r="1.26" fill="#b070c8" opacity="0.8"/><circle cx="523.60" cy="127.20" r="4.40" fill="#7b2f90" stroke="#4a1a5a" stroke-width="0.5"/><circle cx="522.06" cy="125.66" r="1.32" fill="#b070c8" opacity="0.8"/></g><path d="M545.95,67.60 Q545.05,67.60 545.05,68.80 L545.05,70.10 L545.35,70.60 L545.35,85.00 C545.35,96.10 537.05,103.50 537.05,122.00 L537.05,153.40 Q537.05,156.40 540.05,156.40 L558.25,156.40 Q561.25,156.40 561.25,153.40 L561.25,122.00 C561.25,103.50 552.95,96.10 552.95,85.00 L552.95,70.60 L553.25,70.10 L553.25,68.80 Q553.25,67.60 552.35,67.60 Z" fill="#000" opacity="0.55" filter="url(#bs)" transform="translate(2.5,2)"/><path d="M545.95,67.60 Q545.05,67.60 545.05,68.80 L545.05,70.10 L545.35,70.60 L545.35,85.00 C545.35,96.10 537.05,103.50 537.05,122.00 L537.05,153.40 Q537.05,156.40 540.05,156.40 L558.25,156.40 Q561.25,156.40 561.25,153.40 L561.25,122.00 C561.25,103.50 552.95,96.10 552.95,85.00 L552.95,70.60 L553.25,70.10 L553.25,68.80 Q553.25,67.60 552.35,67.60 Z" fill="#2f5e3f"/><g clip-path="url(#c12)"><rect x="537.70" y="130.20" width="22.90" height="17.10" fill="#f7dcc8" /><rect x="541.00" y="136.00" width="1.60" height="3.00" fill="#7a5a48" /><rect x="543.60" y="136.00" width="1.60" height="3.00" fill="#7a5a48" /><rect x="546.20" y="136.00" width="1.60" height="3.00" fill="#7a5a48" /><rect x="548.80" y="136.00" width="1.60" height="3.00" fill="#7a5a48" /><rect x="551.40" y="136.00" width="1.60" height="3.00" fill="#7a5a48" /><rect x="554.00" y="136.00" width="1.60" height="3.00" fill="#7a5a48" /><rect x="556.60" y="136.00" width="1.60" height="3.00" fill="#7a5a48" /><rect x="546.00" y="141.50" width="1.50" height="2.00" fill="#7a5a48" /><rect x="548.60" y="141.50" width="1.50" height="2.00" fill="#7a5a48" /><rect x="551.20" y="141.50" width="1.50" height="2.00" fill="#7a5a48" /><rect x="537.05" y="67.60" width="24.20" height="88.80" fill="url(#bsh)"/></g><path d="M545.95,67.60 Q545.05,67.60 545.05,68.80 L545.05,70.10 L545.35,70.60 L545.35,85.00 C545.35,96.10 537.05,103.50 537.05,122.00 L537.05,153.40 Q537.05,156.40 540.05,156.40 L558.25,156.40 Q561.25,156.40 561.25,153.40 L561.25,122.00 C561.25,103.50 552.95,96.10 552.95,85.00 L552.95,70.60 L553.25,70.10 L553.25,68.80 Q553.25,67.60 552.35,67.60 Z" fill="none" stroke="#1c3626" stroke-width="0.9"/><path d="M545.05,68.80 Q545.05,67.60 546.25,67.60 L552.05,67.60 Q553.25,67.60 553.25,68.80 L553.25,85.10 L545.05,85.10 Z" fill="#c8262e"/><rect x="545.05" y="68.00" width="8.20" height="17.10" fill="url(#csh)"/><rect x="545.05" y="69.80" width="8.20" height="0.7" fill="#000" opacity="0.18"/><path d="M598.00,75.10 Q597.10,75.10 597.10,76.30 L597.10,77.60 L597.40,78.10 L597.40,91.50 C597.40,94.65 591.10,92.03 591.10,102.00 L591.10,144.70 Q591.10,146.70 593.10,146.70 L607.90,146.70 Q609.90,146.70 609.90,144.70 L609.90,102.00 C609.90,92.03 603.60,94.65 603.60,91.50 L603.60,78.10 L603.90,77.60 L603.90,76.30 Q603.90,75.10 603.00,75.10 Z" fill="#000" opacity="0.55" filter="url(#bs)" transform="translate(2.5,2)"/><path d="M598.00,75.10 Q597.10,75.10 597.10,76.30 L597.10,77.60 L597.40,78.10 L597.40,91.50 C597.40,94.65 591.10,92.03 591.10,102.00 L591.10,144.70 Q591.10,146.70 593.10,146.70 L607.90,146.70 Q609.90,146.70 609.90,144.70 L609.90,102.00 C609.90,92.03 603.60,94.65 603.60,91.50 L603.60,78.10 L603.90,77.60 L603.90,76.30 Q603.90,75.10 603.00,75.10 Z" fill="#38383a"/><g clip-path="url(#c13)"><rect x="590.00" y="115.30" width="22.00" height="17.00" fill="#f6f6f6" /><rect x="593.50" y="119.20" width="14.00" height="1.20" fill="#7a6a60" opacity="0.6"/><rect x="595.00" y="126.00" width="11.00" height="1.00" fill="#8a7a70" opacity="0.5"/><rect x="595.00" y="128.30" width="11.00" height="0.70" fill="#8a7a70" opacity="0.35"/><circle cx="600.5" cy="117.5" r="1" fill="#e09020"/><path d="M604,93 C608,96 610,100 610,106 L607,106 C607,101 606,97 603,95 Z" fill="#fff" opacity="0.8"/><rect x="591.10" y="75.10" width="18.80" height="71.60" fill="url(#bsh)"/></g><path d="M597.10,76.30 Q597.10,75.10 598.30,75.10 L602.70,75.10 Q603.90,75.10 603.90,76.30 L603.90,91.20 L597.10,91.20 Z" fill="#c4202c"/><rect x="597.10" y="75.50" width="6.80" height="15.70" fill="url(#csh)"/><rect x="597.10" y="77.30" width="6.80" height="0.7" fill="#000" opacity="0.18"/><g filter="url(#bs)" opacity="0.5" transform="translate(2,2)"><path d="M646.46,103.20 C645.58,108.40 645.00,112.30 645.00,116.20 C645.00,124.65 651.34,128.16 653.95,129.20 L655.55,129.20 C658.16,128.16 664.50,124.65 664.50,116.20 C664.50,112.30 663.92,108.40 663.04,103.20 Z" fill="#000"/><rect x="653.95" y="129.20" width="1.6" height="22.10" fill="#000"/><ellipse cx="654.75" cy="150.80" rx="9.00" ry="1.6" fill="#000"/></g><rect x="653.55" y="128.20" width="2.4" height="23.10" fill="#5a5a5a"/><rect x="653.95" y="128.20" width="1.6" height="23.10" fill="#9a9a9a"/><rect x="654.15" y="128.20" width="0.6" height="23.10" fill="#dadada"/><ellipse cx="654.75" cy="150.70" rx="9.00" ry="1.6" fill="#8e8e8e"/><ellipse cx="654.75" cy="150.20" rx="7.80" ry="0.8" fill="#dcdcdc"/><path d="M646.46,103.20 C645.58,108.40 645.00,112.30 645.00,116.20 C645.00,124.65 651.34,128.16 653.95,129.20 L655.55,129.20 C658.16,128.16 664.50,124.65 664.50,116.20 C664.50,112.30 663.92,108.40 663.04,103.20 Z" fill="url(#gl)"/><g clip-path="url(#g14)"><rect x="644.00" y="117.20" width="21.50" height="13.00" fill="#85192a" /><rect x="644.00" y="117.20" width="21.50" height="1.20" fill="#000" opacity="0.25"/><rect x="649.39" y="118.20" width="2.34" height="7.20" fill="#fff" opacity="0.18"/></g><path d="M676.85,67.00 Q675.95,67.00 675.95,68.20 L675.95,69.50 L676.25,70.00 L676.25,87.00 C676.25,91.80 671.05,88.92 671.05,103.00 L671.05,150.40 Q671.05,152.40 673.05,152.40 L685.25,152.40 Q687.25,152.40 687.25,150.40 L687.25,103.00 C687.25,88.92 682.05,91.80 682.05,87.00 L682.05,70.00 L682.35,69.50 L682.35,68.20 Q682.35,67.00 681.45,67.00 Z" fill="#000" opacity="0.55" filter="url(#bs)" transform="translate(2.5,2)"/><path d="M676.85,67.00 Q675.95,67.00 675.95,68.20 L675.95,69.50 L676.25,70.00 L676.25,87.00 C676.25,91.80 671.05,88.92 671.05,103.00 L671.05,150.40 Q671.05,152.40 673.05,152.40 L685.25,152.40 Q687.25,152.40 687.25,150.40 L687.25,103.00 C687.25,88.92 682.05,91.80 682.05,87.00 L682.05,70.00 L682.35,69.50 L682.35,68.20 Q682.35,67.00 681.45,67.00 Z" fill="#3e3e40"/><g clip-path="url(#c15)"><rect x="670.00" y="86.00" width="20.00" height="17.50" fill="#bdbdbd" /><rect x="670.00" y="86.00" width="20.00" height="2.00" fill="#8a8a8a" /><rect x="677.00" y="86.00" width="2.00" height="17.50" fill="#efefef" /><rect x="673.50" y="104.00" width="1.50" height="46.00" fill="#7a7a7a" /><rect x="683.00" y="104.00" width="1.20" height="46.00" fill="#5a5a5a" /><rect x="671.05" y="67.00" width="16.20" height="85.40" fill="url(#bsh)"/></g><g filter="url(#bs)" opacity="0.5" transform="translate(2,2)"><path d="M720.57,91.70 C719.87,103.06 719.40,111.58 719.40,120.10 C719.40,131.41 727.00,136.11 730.30,137.50 L731.90,137.50 C735.20,136.11 742.80,131.41 742.80,120.10 C742.80,111.58 742.33,103.06 741.63,91.70 Z" fill="#000"/><rect x="730.30" y="137.50" width="1.6" height="10.50" fill="#000"/><ellipse cx="731.10" cy="147.50" rx="7.00" ry="1.6" fill="#000"/></g><rect x="729.90" y="136.50" width="2.4" height="11.50" fill="#5a5a5a"/><rect x="730.30" y="136.50" width="1.6" height="11.50" fill="#9a9a9a"/><rect x="730.50" y="136.50" width="0.6" height="11.50" fill="#dadada"/><ellipse cx="731.10" cy="147.40" rx="7.00" ry="1.6" fill="#8e8e8e"/><ellipse cx="731.10" cy="146.90" rx="5.80" ry="0.8" fill="#dcdcdc"/><path d="M720.57,91.70 C719.87,103.06 719.40,111.58 719.40,120.10 C719.40,131.41 727.00,136.11 730.30,137.50 L731.90,137.50 C735.20,136.11 742.80,131.41 742.80,120.10 C742.80,111.58 742.33,103.06 741.63,91.70 Z" fill="#6e6e6e"/><g clip-path="url(#g16)"><rect x="718.40" y="115.70" width="25.40" height="22.80" fill="#e2bb26" /><rect x="718.40" y="115.70" width="25.40" height="1.20" fill="#000" opacity="0.25"/><rect x="724.67" y="116.70" width="2.81" height="13.08" fill="#fff" opacity="0.18"/></g><rect x="724.00" y="93.50" width="3.50" height="20.50" fill="#ffffff" opacity="0.92"/><rect x="736.00" y="93.00" width="2.00" height="19.00" fill="#9a9a9a" opacity="0.8"/><ellipse cx="730" cy="125" rx="6.5" ry="9" fill="#f6e8a8" opacity="0.55"/><path d="M722,148 C721,142 726,139 731,141 C732,145 728,149 722,148 Z" fill="#7fb04a"/><path d="M735,146 C737,139 745,138 748,143 C746,149 739,150 735,146 Z" fill="#8cc050"/><g filter="url(#ds)"><circle cx="734.35" cy="146.01" r="2.21" fill="#7b30a6" stroke="#4a1a62" stroke-width="0.6"/><circle cx="733.69" cy="145.24" r="0.99" fill="#c9a0e0" opacity="0.35"/><circle cx="737.51" cy="146.87" r="2.39" fill="#7b30a6" stroke="#4a1a62" stroke-width="0.6"/><circle cx="736.79" cy="146.04" r="1.08" fill="#c9a0e0" opacity="0.35"/><circle cx="725.96" cy="146.51" r="2.34" fill="#7b30a6" stroke="#4a1a62" stroke-width="0.6"/><circle cx="725.26" cy="145.69" r="1.05" fill="#c9a0e0" opacity="0.35"/><circle cx="746.18" cy="146.64" r="2.14" fill="#7b30a6" stroke="#4a1a62" stroke-width="0.6"/><circle cx="745.54" cy="145.89" r="0.96" fill="#c9a0e0" opacity="0.35"/><circle cx="729.62" cy="146.51" r="2.36" fill="#7b30a6" stroke="#4a1a62" stroke-width="0.6"/><circle cx="728.91" cy="145.69" r="1.06" fill="#c9a0e0" opacity="0.35"/><circle cx="721.94" cy="146.57" r="2.50" fill="#7b30a6" stroke="#4a1a62" stroke-width="0.6"/><circle cx="721.19" cy="145.70" r="1.12" fill="#c9a0e0" opacity="0.35"/><circle cx="741.45" cy="147.08" r="2.51" fill="#7b30a6" stroke="#4a1a62" stroke-width="0.6"/><circle cx="740.70" cy="146.20" r="1.13" fill="#c9a0e0" opacity="0.35"/><circle cx="740.19" cy="149.85" r="2.20" fill="#7b30a6" stroke="#4a1a62" stroke-width="0.6"/><circle cx="739.54" cy="149.08" r="0.99" fill="#c9a0e0" opacity="0.35"/><circle cx="731.96" cy="149.83" r="2.46" fill="#7b30a6" stroke="#4a1a62" stroke-width="0.6"/><circle cx="731.22" cy="148.97" r="1.11" fill="#c9a0e0" opacity="0.35"/><circle cx="727.63" cy="149.59" r="2.08" fill="#7b30a6" stroke="#4a1a62" stroke-width="0.6"/><circle cx="727.00" cy="148.86" r="0.94" fill="#c9a0e0" opacity="0.35"/><circle cx="723.42" cy="149.93" r="2.10" fill="#7b30a6" stroke="#4a1a62" stroke-width="0.6"/><circle cx="722.79" cy="149.30" r="0.73" fill="#f4eaf8" opacity="0.9"/><circle cx="748.25" cy="149.68" r="2.18" fill="#7b30a6" stroke="#4a1a62" stroke-width="0.6"/><circle cx="747.60" cy="148.92" r="0.98" fill="#c9a0e0" opacity="0.35"/><circle cx="736.02" cy="150.07" r="2.30" fill="#7b30a6" stroke="#4a1a62" stroke-width="0.6"/><circle cx="735.33" cy="149.38" r="0.80" fill="#f4eaf8" opacity="0.9"/><circle cx="721.75" cy="152.78" r="2.42" fill="#7b30a6" stroke="#4a1a62" stroke-width="0.6"/><circle cx="721.02" cy="151.94" r="1.09" fill="#c9a0e0" opacity="0.35"/><circle cx="744.60" cy="150.49" r="2.46" fill="#7b30a6" stroke="#4a1a62" stroke-width="0.6"/><circle cx="743.86" cy="149.64" r="1.11" fill="#c9a0e0" opacity="0.35"/><circle cx="738.58" cy="153.18" r="2.10" fill="#7b30a6" stroke="#4a1a62" stroke-width="0.6"/><circle cx="737.95" cy="152.55" r="0.74" fill="#f4eaf8" opacity="0.9"/><circle cx="730.55" cy="153.72" r="2.07" fill="#7b30a6" stroke="#4a1a62" stroke-width="0.6"/><circle cx="729.93" cy="152.99" r="0.93" fill="#c9a0e0" opacity="0.35"/><circle cx="745.50" cy="153.10" r="2.51" fill="#7b30a6" stroke="#4a1a62" stroke-width="0.6"/><circle cx="744.75" cy="152.22" r="1.13" fill="#c9a0e0" opacity="0.35"/><circle cx="733.65" cy="153.79" r="2.29" fill="#7b30a6" stroke="#4a1a62" stroke-width="0.6"/><circle cx="732.97" cy="152.99" r="1.03" fill="#c9a0e0" opacity="0.35"/><circle cx="742.16" cy="153.63" r="2.19" fill="#7b30a6" stroke="#4a1a62" stroke-width="0.6"/><circle cx="741.50" cy="152.87" r="0.99" fill="#c9a0e0" opacity="0.35"/><circle cx="725.88" cy="153.72" r="2.25" fill="#7b30a6" stroke="#4a1a62" stroke-width="0.6"/><circle cx="725.21" cy="152.93" r="1.01" fill="#c9a0e0" opacity="0.35"/></g><path d="M758.20,69.20 Q757.30,69.20 757.30,70.40 L757.30,71.70 L757.60,72.20 L757.60,84.00 C757.60,90.90 748.70,95.50 748.70,107.00 L748.70,155.40 Q748.70,158.40 751.70,158.40 L771.50,158.40 Q774.50,158.40 774.50,155.40 L774.50,107.00 C774.50,95.50 765.60,90.90 765.60,84.00 L765.60,72.20 L765.90,71.70 L765.90,70.40 Q765.90,69.20 765.00,69.20 Z" fill="#000" opacity="0.55" filter="url(#bs)" transform="translate(2.5,2)"/><path d="M758.20,69.20 Q757.30,69.20 757.30,70.40 L757.30,71.70 L757.60,72.20 L757.60,84.00 C757.60,90.90 748.70,95.50 748.70,107.00 L748.70,155.40 Q748.70,158.40 751.70,158.40 L771.50,158.40 Q774.50,158.40 774.50,155.40 L774.50,107.00 C774.50,95.50 765.60,90.90 765.60,84.00 L765.60,72.20 L765.90,71.70 L765.90,70.40 Q765.90,69.20 765.00,69.20 Z" fill="url(#yb)"/><g clip-path="url(#c17)"><rect x="750.90" y="130.60" width="20.50" height="22.60" fill="#fdfdfd" /><rect x="769.00" y="130.60" width="2.40" height="22.60" fill="#d8d8d8" /><path d="M756,86 C752,96 751,108 751,122 L754,122 C754,108 756,96 759,86 Z" fill="#fff6d0" opacity="0.75"/><rect x="765.00" y="100.00" width="4.00" height="28.00" fill="#f8e070" opacity="0.6"/><rect x="748.70" y="69.20" width="25.80" height="89.20" fill="url(#bsh)"/></g><path d="M757.40,70.40 Q757.40,69.20 758.60,69.20 L764.60,69.20 Q765.80,69.20 765.80,70.40 L765.80,81.50 L757.40,81.50 Z" fill="#c8262e"/><rect x="757.40" y="69.60" width="8.40" height="11.90" fill="url(#csh)"/><rect x="757.40" y="71.40" width="8.40" height="0.7" fill="#000" opacity="0.18"/><g filter="url(#ds)"><circle cx="770.42" cy="140.62" r="2.84" fill="#7b30a6" stroke="#4a1a62" stroke-width="0.6"/><circle cx="769.57" cy="139.63" r="1.28" fill="#c9a0e0" opacity="0.35"/><circle cx="774.58" cy="140.67" r="3.14" fill="#7b30a6" stroke="#4a1a62" stroke-width="0.6"/><circle cx="773.63" cy="139.57" r="1.41" fill="#c9a0e0" opacity="0.35"/><circle cx="784.75" cy="140.92" r="3.20" fill="#7b30a6" stroke="#4a1a62" stroke-width="0.6"/><circle cx="783.79" cy="139.80" r="1.44" fill="#c9a0e0" opacity="0.35"/><circle cx="779.56" cy="141.04" r="2.83" fill="#7b30a6" stroke="#4a1a62" stroke-width="0.6"/><circle cx="778.71" cy="140.05" r="1.27" fill="#c9a0e0" opacity="0.35"/><circle cx="764.71" cy="141.22" r="3.11" fill="#7b30a6" stroke="#4a1a62" stroke-width="0.6"/><circle cx="763.78" cy="140.13" r="1.40" fill="#c9a0e0" opacity="0.35"/><circle cx="767.63" cy="144.67" r="2.87" fill="#7b30a6" stroke="#4a1a62" stroke-width="0.6"/><circle cx="766.77" cy="143.66" r="1.29" fill="#c9a0e0" opacity="0.35"/><circle cx="772.08" cy="145.70" r="3.19" fill="#7b30a6" stroke="#4a1a62" stroke-width="0.6"/><circle cx="771.12" cy="144.74" r="1.12" fill="#f4eaf8" opacity="0.9"/><circle cx="783.04" cy="145.60" r="2.85" fill="#7b30a6" stroke="#4a1a62" stroke-width="0.6"/><circle cx="782.18" cy="144.60" r="1.28" fill="#c9a0e0" opacity="0.35"/><circle cx="777.87" cy="145.64" r="3.15" fill="#7b30a6" stroke="#4a1a62" stroke-width="0.6"/><circle cx="776.92" cy="144.54" r="1.42" fill="#c9a0e0" opacity="0.35"/><circle cx="770.42" cy="149.48" r="3.15" fill="#7b30a6" stroke="#4a1a62" stroke-width="0.6"/><circle cx="769.47" cy="148.54" r="1.10" fill="#f4eaf8" opacity="0.9"/><circle cx="775.08" cy="149.42" r="2.92" fill="#7b30a6" stroke="#4a1a62" stroke-width="0.6"/><circle cx="774.20" cy="148.39" r="1.31" fill="#c9a0e0" opacity="0.35"/><circle cx="779.92" cy="149.28" r="2.77" fill="#7b30a6" stroke="#4a1a62" stroke-width="0.6"/><circle cx="779.08" cy="148.31" r="1.25" fill="#c9a0e0" opacity="0.35"/><circle cx="772.88" cy="154.11" r="3.29" fill="#7b30a6" stroke="#4a1a62" stroke-width="0.6"/><circle cx="771.90" cy="152.96" r="1.48" fill="#c9a0e0" opacity="0.35"/><circle cx="777.73" cy="153.82" r="3.15" fill="#7b30a6" stroke="#4a1a62" stroke-width="0.6"/><circle cx="776.78" cy="152.71" r="1.42" fill="#c9a0e0" opacity="0.35"/><circle cx="782.06" cy="153.96" r="2.97" fill="#7b30a6" stroke="#4a1a62" stroke-width="0.6"/><circle cx="781.17" cy="152.92" r="1.33" fill="#c9a0e0" opacity="0.35"/><circle cx="774.61" cy="157.64" r="3.01" fill="#7b30a6" stroke="#4a1a62" stroke-width="0.6"/><circle cx="773.71" cy="156.59" r="1.36" fill="#c9a0e0" opacity="0.35"/><circle cx="779.70" cy="157.95" r="3.06" fill="#7b30a6" stroke="#4a1a62" stroke-width="0.6"/><circle cx="778.78" cy="157.03" r="1.07" fill="#f4eaf8" opacity="0.9"/></g></svg>
<svg id="chart" width="795" height="463" viewBox="0 0 795 463">
<defs><filter id="sh" x="-30%" y="-10%" width="160%" height="130%"><feGaussianBlur in="SourceAlpha" stdDeviation="1.8"/><feOffset dx="2.5" dy="0.3" result="b"/><feComponentTransfer><feFuncA type="linear" slope="0.5"/></feComponentTransfer><feMerge><feMergeNode/><feMergeNode in="SourceGraphic"/></feMerge></filter></defs>
<line x1="35.1" y1="378.50" x2="795" y2="378.50" class="g"/>
<text x="25" y="381.16" class="yl">5,0</text>
<line x1="35.1" y1="355.50" x2="795" y2="355.50" class="g"/>
<text x="25" y="358.01" class="yl">10,0</text>
<line x1="35.1" y1="331.50" x2="795" y2="331.50" class="g"/>
<text x="25" y="334.87" class="yl">15,0</text>
<line x1="35.1" y1="308.50" x2="795" y2="308.50" class="g"/>
<text x="25" y="311.72" class="yl">20,0</text>
<line x1="35.1" y1="285.50" x2="795" y2="285.50" class="g"/>
<text x="25" y="288.58" class="yl">25,0</text>
<line x1="35.1" y1="262.50" x2="795" y2="262.50" class="g"/>
<text x="25" y="265.44" class="yl">30,0</text>
<line x1="35.1" y1="238.50" x2="795" y2="238.50" class="g"/>
<text x="25" y="242.29" class="yl">35,0</text>
<line x1="35.1" y1="215.50" x2="795" y2="215.50" class="g"/>
<text x="25" y="219.14" class="yl">40,0</text>
<line x1="35.1" y1="192.50" x2="795" y2="192.50" class="g"/>
<text x="25" y="196.00" class="yl">45,0</text>
<text x="25" y="404.31" class="yl">0,0</text>
<rect x="42.00" y="323.36" width="23" height="78.54" class="gb" filter="url(#sh)"/>
<rect x="69.90" y="394.93" width="22.4" height="6.97" class="wb" filter="url(#sh)"/>
<text x="53.50" y="313.76" class="vl">16,9</text>
<text x="81.10" y="384.93" class="vl">1,5</text>
<text x="67.15" y="420" class="xl">2014/10</text>
<rect x="105.73" y="314.06" width="23" height="87.84" class="gb" filter="url(#sh)"/>
<rect x="133.63" y="393.07" width="22.4" height="8.83" class="wb" filter="url(#sh)"/>
<text x="117.23" y="304.46" class="vl">18,9</text>
<text x="144.83" y="383.07" class="vl">1,9</text>
<text x="130.88" y="420" class="xl">2015/10</text>
<rect x="169.45" y="298.73" width="23" height="103.17" class="gb" filter="url(#sh)"/>
<rect x="197.35" y="392.60" width="22.4" height="9.29" class="wb" filter="url(#sh)"/>
<text x="180.95" y="289.13" class="vl">22,2</text>
<text x="208.55" y="382.60" class="vl">2,0</text>
<text x="194.60" y="420" class="xl">2016/10</text>
<rect x="233.18" y="279.67" width="23" height="122.23" class="gb" filter="url(#sh)"/>
<rect x="261.08" y="395.86" width="22.4" height="6.04" class="wb" filter="url(#sh)"/>
<text x="244.68" y="270.07" class="vl">26,3</text>
<text x="272.28" y="385.86" class="vl">1,3</text>
<text x="258.33" y="420" class="xl">2017/10</text>
<rect x="296.91" y="235.52" width="23" height="166.38" class="gb" filter="url(#sh)"/>
<rect x="324.81" y="395.39" width="22.4" height="6.51" class="wb" filter="url(#sh)"/>
<text x="308.41" y="225.92" class="vl">35,8</text>
<text x="336.01" y="385.39" class="vl">1,4</text>
<text x="322.06" y="420" class="xl">2018/10</text>
<rect x="360.63" y="209.96" width="23" height="191.94" class="gb" filter="url(#sh)"/>
<rect x="388.53" y="393.07" width="22.4" height="8.83" class="wb" filter="url(#sh)"/>
<text x="372.13" y="200.36" class="vl">41,3</text>
<text x="399.73" y="383.07" class="vl">1,9</text>
<text x="385.78" y="420" class="xl">2019/10</text>
<rect x="424.36" y="241.10" width="23" height="160.80" class="gb" filter="url(#sh)"/>
<rect x="452.26" y="393.53" width="22.4" height="8.37" class="wb" filter="url(#sh)"/>
<text x="435.86" y="231.50" class="vl">34,6</text>
<text x="463.46" y="383.53" class="vl">1,8</text>
<text x="449.51" y="420" class="xl">2020/10</text>
<rect x="488.09" y="303.37" width="23" height="98.53" class="gb" filter="url(#sh)"/>
<rect x="515.99" y="390.75" width="22.4" height="11.15" class="wb" filter="url(#sh)"/>
<text x="499.59" y="293.77" class="vl">21,2</text>
<text x="527.19" y="380.75" class="vl">2,4</text>
<text x="513.24" y="420" class="xl">2021/10</text>
<rect x="551.82" y="288.97" width="23" height="112.93" class="gb" filter="url(#sh)"/>
<rect x="579.72" y="395.39" width="22.4" height="6.51" class="wb" filter="url(#sh)"/>
<text x="563.32" y="279.37" class="vl">24,3</text>
<text x="590.92" y="385.39" class="vl">1,4</text>
<text x="576.97" y="420" class="xl">2022/10</text>
<rect x="615.54" y="280.60" width="23" height="121.30" class="gb" filter="url(#sh)"/>
<rect x="643.44" y="394.46" width="22.4" height="7.44" class="wb" filter="url(#sh)"/>
<text x="627.04" y="271.00" class="vl">26,1</text>
<text x="654.64" y="384.46" class="vl">1,6</text>
<text x="640.69" y="420" class="xl">2023/10</text>
<rect x="679.27" y="314.06" width="23" height="87.84" class="gb" filter="url(#sh)"/>
<rect x="707.17" y="396.79" width="22.4" height="5.11" class="wb" filter="url(#sh)"/>
<text x="690.77" y="304.46" class="vl">18,9</text>
<text x="718.37" y="386.79" class="vl">1,1</text>
<text x="704.42" y="420" class="xl">2024/10</text>
<rect x="743.00" y="332.65" width="23" height="69.25" class="gb" filter="url(#sh)"/>
<rect x="770.90" y="396.79" width="22.4" height="5.11" class="wb" filter="url(#sh)"/>
<text x="754.50" y="323.05" class="vl">14,9</text>
<text x="782.10" y="386.79" class="vl">1,1</text>
<text x="768.15" y="420" class="xl">2025/10</text>
<line x1="35" y1="401.6" x2="795" y2="401.6" class="ax"/>
</svg>
<div id="legend"><div class="sq" style="left:323px;background:#92d050"></div><span style="position:absolute;left:333px">Всего</span><div class="sq" style="left:376px;background:#fff"></div><span style="position:absolute;left:386px;white-space:nowrap">Из них вино игристое</span></div>
<div id="footer"><div id="src">Источник: Бюро национальной статистики АСПиР РК</div>
<div id="logo"><svg width="18" height="18" style="position:absolute;left:13px;top:3px" viewBox="0 0 18 18"><path d="M6.60,0.80 L16.60,0.80 L15.40,5.00 L3.40,5.00 Q2.40,5.30 2.20,5.90 Q3.80,2.00 6.60,0.80 Z M5.50,5.90 L15.50,5.90 L14.30,10.10 L2.30,10.10 Q1.30,10.40 1.10,11.00 Q2.70,7.10 5.50,5.90 Z M4.40,11.00 L14.40,11.00 L13.20,15.20 L1.20,15.20 Q0.20,15.50 -0.00,16.10 Q1.60,12.20 4.40,11.00 Z" fill="#f2f5f5"/></svg><span style="left:31px"><b>Energy</b>Prom</span></div>
</div>
</body></html>
